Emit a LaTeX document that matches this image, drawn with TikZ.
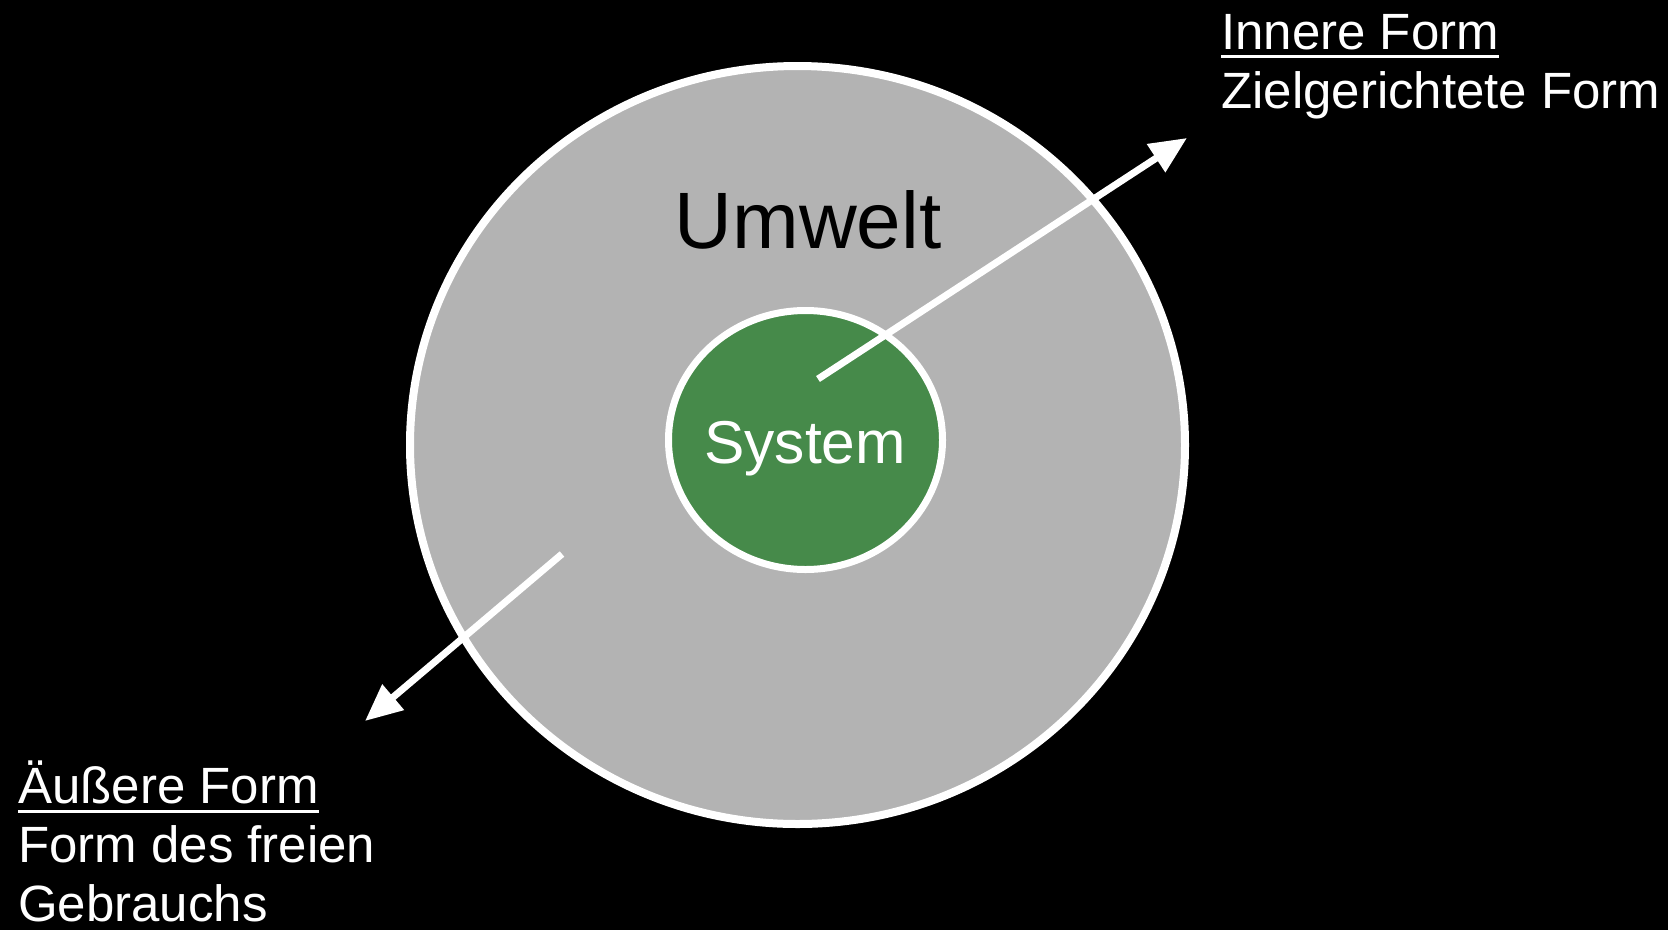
\documentclass[tikz,border=0pt]{standalone}
\usepackage{fontspec}
\setmainfont{Liberation Sans}
\usetikzlibrary{arrows.meta,shapes.geometric}
\definecolor{umweltgray}{HTML}{B3B3B3}
\definecolor{systemgreen}{HTML}{468A4A}
\tikzset{
  ring/.style={ellipse, draw=white, inner sep=0pt},
  label/.style={text=white, anchor=base west, inner sep=0pt, font=\fontsize{51}{59}\selectfont},
  flow/.style={draw=white, line width=7pt, -{Triangle[length=37pt,width=32pt]}},
  uline/.style={draw=white, line width=3pt}
}
\begin{document}
\begin{tikzpicture}[x=1pt,y=-1pt]
  \fill[black] (0,0) rectangle (1668,930);
  \useasboundingbox (0,0) rectangle (1668,930);

  % environment and system
  \node[ring, fill=umweltgray, line width=8pt, minimum width=775pt, minimum height=758pt] (umwelt) at (797.5,445) {};
  \node[ring, fill=systemgreen, line width=7pt, minimum width=274pt, minimum height=259pt] (system) at (805.5,440) {};

  \node[anchor=base, inner sep=0pt, font=\fontsize{80}{90}\selectfont] (umtext) at (808,248) {Umwelt};
  \node[anchor=base, inner sep=0pt, text=white, font=\fontsize{60.5}{70}\selectfont] (systext) at (805,463) {System};

  % arrows
  \coordinate (in0) at (818,379);
  \coordinate (in1) at (1187,138);
  \coordinate (out0) at (562,554);
  \coordinate (out1) at (365,721);
  \draw[flow] (in0) -- (in1);
  \draw[flow] (out0) -- (out1);

  % labels, upper right
  \node[label] (innere) at (1221,49) {Innere Form};
  \node[label] (ziel) at (1221,108) {Zielgerichtete Form};
  \draw[uline] ([yshift=-7pt]innere.base west) -- ([yshift=-7pt]innere.base east);

  % labels, lower left
  \node[label] (aeussere) at (18,803) {Äußere Form};
  \node[label] (frei) at (18,862) {Form des freien};
  \node[label] (gebrauch) at (18,921) {Gebrauchs};
  \draw[uline] ([yshift=-8pt]aeussere.base west) -- ([yshift=-8pt]aeussere.base east);
\end{tikzpicture}
\end{document}
